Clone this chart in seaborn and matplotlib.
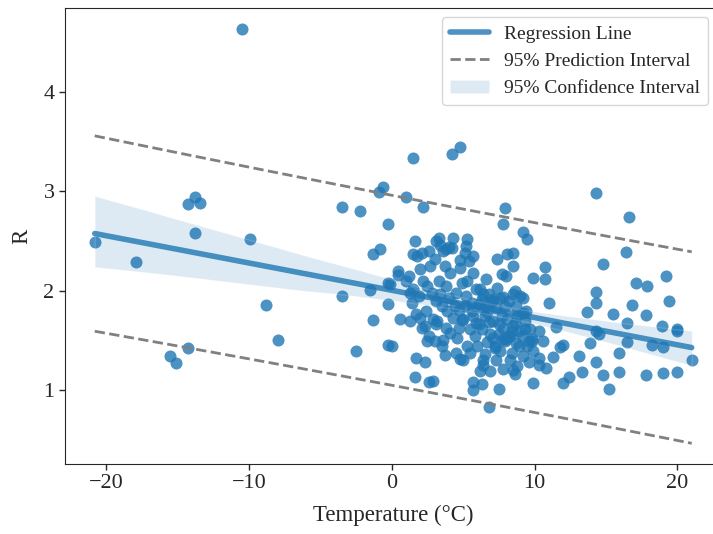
import numpy as np
import pandas as pd
import matplotlib
matplotlib.use("Agg")
import matplotlib.pyplot as plt
import seaborn as sns
from matplotlib.lines import Line2D
from matplotlib.patches import Patch

# Temperature (°C) and R
temp_outer = [-20.8, -17.9, -14.3, -13.8, -13.4, -13.8, -15.5, -15.1, -14.3, -10.5,
              -9.9, -8.8, -8.0, -3.5, -2.2, -0.9, -0.6, -0.3, -1.3, -0.8,
              -3.5, -1.5, -0.3, -1.3, -2.5, -0.3, -0.3, 1.5, 1.0, 2.2,
              1.5, 0.4, 4.2, 4.8, 7.9, 7.8, 9.2, 9.5, 5.3, 5.1,
              5.7, 7.4, 8.1, 8.5, 8.5, 3.0, 4.8, 14.3, 16.6, 16.4,
              14.8, 10.7, 19.2, 17.1, 17.9, 14.3, 14.3, 19.4, 11.0, 9.9,
              10.7, 13.7, 15.5, 16.8, 17.8, 16.5, 18.9, 20.0, 14.3, 14.5,
              11.5, 10.3, 9.8, 10.6, 13.9, 16.5, 18.2, 19.0, 11.8, 12.0,
              15.9, 13.1, 11.3, 21.0, 14.3, 10.3, 10.3, 10.8, 13.3, 15.9,
              12.4, 12.0, 14.8, 17.8, 19.0, 20.0, 15.2, 9.9, 0.6, 0.0,
              1.7, 2.3, 1.6, 2.6, -0.1, 0.4, 1.0, 1.7, 2.0, 2.1,
              1.3, 2.5, 8.0, 6.4, 7.1, 7.8, 8.5, 9.2, 9.2, 3.1,
              3.7, 4.8, 5.0, 6.2, 6.9, 5.7, 6.3, 5.7, 7.5, 6.8,
              8.6, 7.8, 8.8, 2.9, 6.4, 7.2, 3.0, 3.6, 3.4, 3.8,
              4.0, 20.0]
r_outer = [2.49, 2.29, 2.87, 2.94, 2.88, 2.58, 1.35, 1.27, 1.43, 4.63,
           2.52, 1.86, 1.51, 2.84, 2.80, 2.99, 3.04, 2.67, 2.37, 2.42,
           1.95, 2.01, 1.87, 1.71, 1.40, 1.46, 2.08, 3.33, 2.94, 2.84,
           2.37, 2.20, 3.37, 3.44, 2.83, 2.67, 2.59, 2.52, 2.52, 2.38,
           2.35, 2.32, 2.37, 2.38, 2.25, 2.32, 2.23, 2.98, 2.74, 2.39,
           2.27, 2.24, 2.15, 2.08, 2.05, 1.99, 1.88, 1.90, 1.88, 2.13,
           2.12, 1.79, 1.77, 1.86, 1.76, 1.68, 1.65, 1.62, 1.60, 1.57,
           1.64, 1.60, 1.52, 1.50, 1.48, 1.49, 1.46, 1.44, 1.44, 1.46,
           1.38, 1.35, 1.34, 1.30, 1.28, 1.33, 1.25, 1.22, 1.18, 1.18,
           1.13, 1.07, 1.15, 1.15, 1.17, 1.18, 1.01, 1.07, 1.72, 1.45,
           1.33, 1.28, 1.13, 1.08, 2.07, 2.16, 2.10, 1.77, 1.73, 1.63,
           1.98, 1.50, 2.15, 1.97, 1.92, 1.94, 1.97, 1.93, 1.78, 1.67,
           1.36, 1.31, 1.30, 1.19, 1.19, 1.08, 1.06, 1.00, 1.01, 0.83,
           1.16, 1.21, 1.24, 1.09, 1.30, 1.43, 1.50, 1.51, 2.46, 2.42,
           2.44, 1.60]

# dense cluster between 1 and 10 °C
temp_core = [1.2, 1.5, 1.8, 1.3, 1.9, 1.6, 2.0, 1.4,
             2.2, 2.4, 2.6, 2.8, 2.3, 2.7, 2.5, 2.9, 2.1, 2.6,
             3.1, 3.3, 3.5, 3.2, 3.7, 3.4, 3.8, 3.6, 3.9, 3.3, 3.5, 3.8, 3.1,
             4.1, 4.3, 4.5, 4.2, 4.7, 4.4, 4.8, 4.6, 4.9, 4.0, 4.3, 4.7, 4.5, 4.9, 4.1,
             5.1, 5.3, 5.5, 5.2, 5.7, 5.4, 5.8, 5.6, 5.9, 5.0, 5.3, 5.7, 5.5, 5.9, 5.2, 5.6,
             6.1, 6.3, 6.5, 6.2, 6.7, 6.4, 6.8, 6.6, 6.9, 6.0, 6.3, 6.7, 6.5, 6.9, 6.1, 6.4, 6.8,
             7.1, 7.3, 7.5, 7.2, 7.7, 7.4, 7.8, 7.6, 7.9, 7.0, 7.3, 7.7, 7.5, 7.9, 7.1, 7.6,
             8.1, 8.3, 8.5, 8.2, 8.7, 8.4, 8.8, 8.6, 8.9, 8.0, 8.3, 8.7, 8.5,
             9.1, 9.3, 9.5, 9.2, 9.7, 9.4, 9.8, 9.0, 9.6,
             8.2, 8.9, 9.3, 9.6, 8.6, 9.9, 7.8, 8.4]
r_core = [2.15, 2.02, 2.35, 1.70, 1.95, 2.50, 2.22, 1.88,
          2.10, 1.80, 2.40, 1.98, 1.65, 2.25, 2.05, 1.72, 2.38, 1.55,
          2.50, 2.10, 1.85, 1.70, 2.25, 1.97, 1.63, 2.40, 1.80, 2.53, 1.45, 2.05, 1.90,
          2.18, 1.73, 1.98, 2.43, 1.63, 1.85, 2.31, 1.53, 2.08, 1.93, 2.53, 1.81, 1.38, 1.71, 1.58,
          1.85, 2.10, 1.62, 1.95, 1.75, 2.30, 1.55, 1.88, 2.02, 1.72, 1.45, 2.18, 1.38, 1.68, 2.45, 1.80,
          1.87, 1.62, 1.75, 2.02, 1.49, 1.82, 1.69, 2.12, 1.57, 1.45, 1.92, 1.79, 1.37, 1.89, 1.67, 1.25, 1.97,
          1.70, 1.83, 1.57, 1.45, 1.75, 2.03, 1.63, 1.40, 1.85, 1.90, 1.30, 2.17, 1.67, 1.50, 1.53, 1.93,
          1.72, 1.55, 1.65, 1.90, 1.48, 1.38, 1.75, 2.00, 1.60, 1.52, 1.30, 1.85, 1.20,
          1.55, 1.70, 1.45, 1.35, 1.62, 1.80, 1.50, 1.95, 1.28,
          1.55, 1.45, 1.62, 1.50, 1.68, 1.40, 1.52, 1.60]

df = pd.DataFrame({"Temperature": temp_outer + temp_core, "R": r_outer + r_core})

sns.set_style("ticks")
plt.rcParams['font.family'] = ['Liberation Serif', 'DejaVu Serif']
plt.rcParams['mathtext.fontset'] = 'stix'

fig = plt.figure(figsize=(7.13, 5.34), dpi=100)
# right spine falls just outside the image, as in the reference
ax = fig.add_axes([0.091, 0.131, 0.921, 0.854])

col = "#1f77b4"
sns.regplot(data=df, x="Temperature", y="R", ax=ax, ci=95, color=col,
            scatter_kws={"s": 75, "alpha": 0.8, "linewidths": 0},
            line_kws={"linewidth": 4, "alpha": 0.8})

# 95% prediction interval from OLS fit
x = df["Temperature"].to_numpy()
y = df["R"].to_numpy()
n = len(x)
b1, b0 = np.polyfit(x, y, 1)
resid = y - (b0 + b1 * x)
s = np.sqrt(np.sum(resid ** 2) / (n - 2))
xg = np.linspace(x.min(), x.max(), 100)
se_pred = s * np.sqrt(1 + 1 / n + (xg - x.mean()) ** 2 / np.sum((x - x.mean()) ** 2))
t = 1.97
ax.plot(xg, b0 + b1 * xg + t * se_pred, "--", color="gray", lw=2)
ax.plot(xg, b0 + b1 * xg - t * se_pred, "--", color="gray", lw=2)

ax.set_xlabel("Temperature (°C)", fontsize=16.5, labelpad=8)
ax.set_ylabel("R", fontsize=16.5, labelpad=8)
ax.set_xticks([-20, -10, 0, 10, 20])
ax.set_yticks([1, 2, 3, 4])
ax.tick_params(labelsize=16, length=4, width=1)

handles = [Line2D([0], [0], color=col, lw=4, alpha=0.8),
           Line2D([0], [0], color="gray", lw=2, ls="--"),
           Patch(facecolor=col, alpha=0.15)]
labels = ["Regression Line", "95% Prediction Interval", "95% Confidence Interval"]
ax.legend(handles, labels, loc="upper right", fontsize=14, bbox_to_anchor=(0.994, 1.001))

fig.savefig("out.png", dpi=100)
